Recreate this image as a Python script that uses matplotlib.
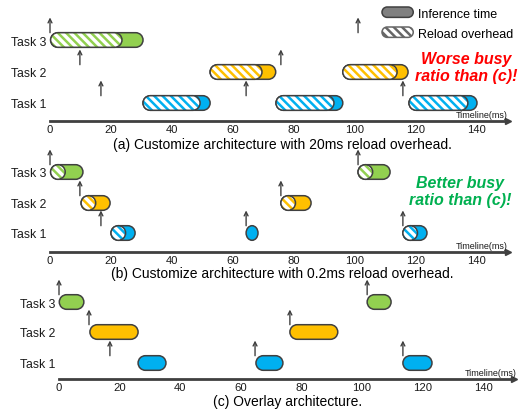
import numpy as np
import matplotlib
matplotlib.use('Agg')
import matplotlib.pyplot as plt
from matplotlib.path import Path
from matplotlib.patches import PathPatch, Patch
from matplotlib.legend_handler import HandlerPatch

plt.rcParams['font.family'] = ['Liberation Sans', 'DejaVu Sans']
plt.rcParams['hatch.linewidth'] = 1.8

# ---- data (ms) ----
task_names = ['Task 1', 'Task 2', 'Task 3']
ticks = [0, 20, 40, 60, 80, 100, 120, 140]

# (task, start, end of reload, end) ; None = no reload
jobs_a = [(3, 0.2, 23.6, 30.5), (1, 30.5, 49.2, 52.5), (2, 52.5, 69.5, 74.0),
          (1, 74.1, 93.1, 96.0), (2, 96.0, 113.8, 117.4), (1, 117.7, 137.0, 140.0)]
jobs_b = [(3, 0.2, 0.4, 10.8), (2, 10.2, 10.4, 19.7), (1, 20.0, 20.2, 27.9),
          (1, 64.3, None, 68.2), (2, 75.7, 75.9, 85.6), (3, 101.0, 101.2, 111.5),
          (1, 115.7, 115.9, 123.6)]
jobs_c = [(3, 0.1, None, 8.2), (2, 10.2, None, 26.1), (1, 26.1, None, 35.3),
          (1, 65.0, None, 73.9), (2, 76.2, None, 92.0), (3, 101.7, None, 109.6),
          (1, 113.5, None, 123.1)]

# request arrivals (task, time)
arrivals_ab = [(3, 0), (2, 9.8), (1, 16.7), (1, 64.3), (2, 75.7), (3, 101.0), (1, 115.7)]
arrivals_c = [(3, 0), (2, 9.9), (1, 16.8), (1, 64.7), (2, 76.2), (3, 101.7), (1, 113.5)]

captions = ['(a) Customize architecture with 20ms reload overhead.',
            '(b) Customize architecture with 0.2ms reload overhead.',
            '(c) Overlay architecture.']

colors = {1: '#00b0f0', 2: '#ffc000', 3: '#92d050'}
EDGE = '#404040'
HATCH = '\\\\\\\\'

W, H = 519, 414
fig = plt.figure(figsize=(W / 100, H / 100), dpi=100)


def capsule_path(x0, x1, yc, h):
    ry = h / 2
    rx = min(ry, (x1 - x0) / 2)
    left = Path.arc(90, 270)
    right = Path.arc(-90, 90)
    lv = left.vertices * [rx, ry] + [x0 + rx, yc]
    rv = right.vertices * [rx, ry] + [x1 - rx, yc]
    verts = np.vstack([lv, rv, lv[:1]])
    codes = list(left.codes) + [Path.LINETO] + list(right.codes[1:]) + [Path.CLOSEPOLY]
    return Path(verts, codes)


def panel(top, bot, x0, s, axis_px, rows_px, jobs, arrivals, tl_right):
    ax = fig.add_axes([0, 1 - bot / H, 1, (bot - top) / H])
    ax.set_xlim(-x0 / s, (W - x0) / s)
    ax.set_ylim((axis_px - bot) / s, (axis_px - top) / s)
    ax.patch.set_visible(False)
    for sp in ['top', 'right', 'left']:
        ax.spines[sp].set_visible(False)
    ax.spines['left'].set_position(('data', -1.3))
    ax.spines['bottom'].set_position(('data', 0))
    ax.spines['bottom'].set_bounds(0, 150)
    ax.spines['bottom'].set_linewidth(2)
    ax.spines['bottom'].set_color(EDGE)
    ax.plot([150], [0], marker='>', color=EDGE, ms=5, clip_on=False)

    row_y = {k + 1: r / s for k, r in enumerate(rows_px)}
    h = 14.6 / s
    ax.set_xticks(ticks)
    ax.set_yticks([row_y[1], row_y[2], row_y[3]])
    ax.set_yticklabels(task_names)
    ax.tick_params(length=0, labelsize=8.8, colors='#1a1a1a')
    ax.tick_params(axis='x', pad=2.5, labelsize=8.1)
    ax.tick_params(axis='y', pad=0)

    for task, start, reload_end, end in jobs:
        y = row_y[task]
        ax.add_patch(PathPatch(capsule_path(start, end, y, h), facecolor=colors[task],
                               edgecolor=EDGE, lw=1.1))
        if reload_end is not None:
            hp = capsule_path(start, max(reload_end, start + h), y, h)
            ax.add_patch(PathPatch(hp, facecolor='white', edgecolor=colors[task],
                                   hatch=HATCH, lw=0))
            ax.add_patch(PathPatch(hp, fill=False, edgecolor=EDGE, lw=1.1))

    for task, t in arrivals:
        y0 = row_y[task] + h / 2
        ax.annotate('', xy=(t, y0 + 5.0), xytext=(t, y0),
                    arrowprops=dict(arrowstyle='->', lw=1.0, color=EDGE,
                                    shrinkA=0, shrinkB=0, mutation_scale=7))

    fig.text(tl_right / W, 1 - (axis_px - 2) / H, 'Timeline(ms)', fontsize=6.5,
             ha='right', va='bottom', color='#1a1a1a')
    return ax


ax_a = panel(0, 138, 50, 3.05, 122, [18, 49, 81], jobs_a, arrivals_ab, 508)
ax_b = panel(138, 266, 50, 3.05, 253, [19, 49, 80], jobs_b, arrivals_ab, 508)
ax_c = panel(266, 414, 59, 3.03, 380, [16, 47, 77], jobs_c, arrivals_c, 517)

fig.text(282 / W, 1 - 144.5 / H, captions[0], fontsize=10, ha='center', va='center')
fig.text(282 / W, 1 - 274 / H, captions[1], fontsize=10, ha='center', va='center')
fig.text(288 / W, 1 - 402.5 / H, captions[2], fontsize=10, ha='center', va='center')

fig.text(466 / W, 1 - 68 / H, 'Worse busy\nratio than (c)!', color='#ff0000',
         fontsize=11.5, fontweight='bold', fontstyle='italic', ha='center',
         va='center', linespacing=1.15)
fig.text(460 / W, 1 - 192 / H, 'Better busy\nratio than (c)!', color='#00b050',
         fontsize=11.5, fontweight='bold', fontstyle='italic', ha='center',
         va='center', linespacing=1.15)


def make_capsule(legend, orig_handle, xdescent, ydescent, width, height, fontsize):
    return PathPatch(capsule_path(-xdescent, width - xdescent, height / 2 - ydescent, height))


handles = [Patch(facecolor='#808080', edgecolor=EDGE, lw=1.1),
           Patch(facecolor='white', edgecolor='#666666', hatch=HATCH, lw=1.1)]
fig.legend(handles, ['Inference time', 'Reload overhead'], loc='upper left',
           bbox_to_anchor=(382 / W, 1 - 8 / H), frameon=False, fontsize=9,
           handlelength=2.5, handleheight=0.9, handletextpad=0.4,
           labelspacing=0.6, borderpad=0, borderaxespad=0,
           handler_map={Patch: HandlerPatch(patch_func=make_capsule)})

fig.savefig('out.png', dpi=100)
